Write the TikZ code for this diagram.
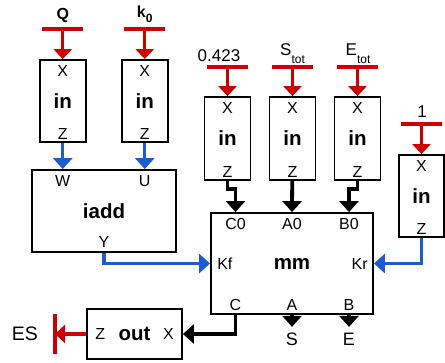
\documentclass[tikz,border=0pt]{standalone}
\usepackage{fontspec}
\setmainfont{Liberation Sans}
\usetikzlibrary{arrows.meta,positioning}
\definecolor{R4}{RGB}{204,0,0}
\definecolor{B4}{RGB}{28,92,208}

\begin{document}
\begin{tikzpicture}[x=1pt,y=-1pt,
    blk/.style={draw,line width=1.8pt,inner sep=0pt,font=\fontsize{20.5}{20.5}\selectfont\bfseries},
    inblk/.style={blk,minimum width=46pt,minimum height=82pt},
    port/.style={inner sep=0pt,font=\fontsize{16}{16}\selectfont},
    term/.style={inner sep=0pt,anchor=base,font=\fontsize{17}{17}\selectfont},
    bar/.style={R4,line width=4.5pt},
    redarr/.style={R4,line width=3.3pt,-{Triangle[width=18pt,length=10pt]}},
    bluearr/.style={B4,line width=3.3pt,-{Triangle[width=19pt,length=11pt]}},
    blkarr/.style={line width=3.8pt,-{Triangle[width=19pt,length=11pt]}}]
  \useasboundingbox (0,0) rectangle (445,362);
  % in blocks
  \node[inblk] (inQ) at (62.75,101) {in};
  \node[inblk] (inK) at (144.75,101) {in};
  \node[inblk,minimum height=83pt] (inC) at (227.5,138.5) {in};
  \node[inblk,minimum height=83pt] (inS) at (292.5,138.5) {in};
  \node[inblk,minimum height=83pt] (inE) at (357.5,138.5) {in};
  \node[inblk,minimum width=45pt] (inR) at (421.5,196) {in};
  \foreach \bx in {inQ,inK,inC,inS,inE,inR}{
    \node[port,below=6pt of \bx.north] (\bx-X) {X};
    \node[port,above=3.5pt of \bx.south] (\bx-Z) {Z};
  }
  % terminals
  \coordinate (tQ) at (62.75,29);
  \coordinate (tK) at (144.75,29);
  \coordinate (tC) at (227.5,67);
  \coordinate (tS) at (292.5,67);
  \coordinate (tE) at (357.5,67);
  \coordinate (tR) at (421.5,124);
  \foreach \tm/\bx in {tQ/inQ,tK/inK,tC/inC,tS/inS,tE/inE,tR/inR}{
    \draw[bar] ([xshift=-20.5pt]\tm) -- ([xshift=20.5pt]\tm);
    \draw[redarr] (\tm) -- (\bx);
  }
  \node[term,font=\fontsize{16}{16}\selectfont\bfseries] (lQ) at (62.75,19) {Q};
  \node[term,font=\fontsize{16}{16}\selectfont\bfseries] (lK) at (144.75,17) {k\raisebox{-5pt}{\fontsize{12}{12}\selectfont 0}};
  \node[term] (lC) at (219,61) {0.423};
  \node[term] (lS0) at (292.5,55) {S\raisebox{-8pt}{\fontsize{12}{12}\selectfont tot}};
  \node[term] (lE0) at (358,55) {E\raisebox{-8pt}{\fontsize{12}{12}\selectfont tot}};
  \node[term] (lR) at (422,117) {1};
  % iadd, mm, out
  \node[blk,minimum width=144pt,minimum height=82pt] (iadd) at (104,211) {iadd};
  \node[blk,minimum width=162pt,minimum height=101pt] (mm) at (292,263.5) {mm};
  \node[blk,minimum width=95pt,minimum height=50pt] (out) at (134.5,334) {out};
  \node[port,below=6pt of iadd.north -| inQ] (iaddW) {W};
  \node[port,below=6pt of iadd.north -| inK] (iaddU) {U};
  \node[port,above=5pt of iadd.south] (iaddY) {Y};
  \coordinate (colC) at (235.5,0);
  \coordinate (colA) at (292,0);
  \coordinate (colB) at (349,0);
  \node[port,below=6pt of mm.north -| colC] (mmC0) {C0};
  \node[port,below=6pt of mm.north -| colA] (mmA0) {A0};
  \node[port,below=6pt of mm.north -| colB] (mmB0) {B0};
  \node[port,above=4pt of mm.south -| colC] (mmC) {C};
  \node[port,above=4pt of mm.south -| colA] (mmA) {A};
  \node[port,above=4pt of mm.south -| colB] (mmB) {B};
  \node[port,right=7pt of mm.west] (mmKf) {Kf};
  \node[port,left=6pt of mm.east] (mmKr) {Kr};
  \node[port,right=9pt of out.west] (outZ) {Z};
  \node[port,left=9pt of out.east] (outX) {X};
  \node[inner sep=0pt,font=\fontsize{18}{18}\selectfont,below=18pt of mm.south -| colA] (lS) {S};
  \node[inner sep=0pt,font=\fontsize{18}{18}\selectfont,below=18pt of mm.south -| colB] (lE) {E};
  % ES terminal
  \coordinate (tES) at (55,334);
  \draw[bar] ([yshift=-20pt]tES) -- ([yshift=20pt]tES);
  \draw[redarr] (out) -- (tES);
  \node[inner sep=0pt,font=\fontsize{19.5}{19.5}\selectfont,left=17pt of tES] (lES) {ES};
  % connectors
  \draw[bluearr] (inQ) -- (iadd.north -| inQ);
  \draw[bluearr] (inK) -- (iadd.north -| inK);
  \draw[bluearr] (iadd.south) |- (mm.west);
  \draw[bluearr] (inR.south) |- (mm.east);
  \draw[blkarr] (inC.south) -- ++(0,8) -| (mm.north -| colC);
  \draw[blkarr] (inS) -- (mm.north -| colA);
  \draw[blkarr] (inE.south) -- ++(0,8) -| (mm.north -| colB);
  \draw[blkarr] (mm.south -| colC) |- (out.east);
  \draw[blkarr,shorten >=6pt] (mm.south -| colA) -- (lS);
  \draw[blkarr,shorten >=6pt] (mm.south -| colB) -- (lE);
\end{tikzpicture}
\end{document}
